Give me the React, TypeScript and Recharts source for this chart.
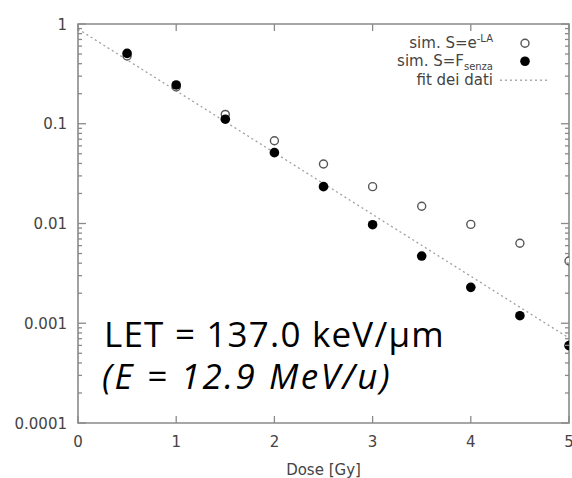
import React from 'react';
import { ComposedChart, Scatter, Line, XAxis, YAxis, ReferenceArea, Legend } from 'recharts';

// ---- data ----
const DOSE = [0.5, 1, 1.5, 2, 2.5, 3, 3.5, 4, 4.5, 5];
const SIM_EXP = [0.478, 0.234, 0.124, 0.0676, 0.0395, 0.0234, 0.0149, 0.0098, 0.00634, 0.00421];
const SIM_F = [0.508, 0.245, 0.111, 0.0513, 0.0234, 0.00973, 0.00472, 0.00229, 0.00119, 0.000596];
const FIT_DOSE = [0, 5];
const FIT_S = [0.891, 0.00071];
const X_TICKS = [0, 1, 2, 3, 4, 5];
const Y_MAJOR = [0.0001, 0.001, 0.01, 0.1, 1];
const Y_MAJOR_LABELS = ['0.0001', '0.001', '0.01', '0.1', '1'];
const Y_MINOR_MULT = [2, 3, 4, 5, 6, 7, 8, 9];

const simExpData = DOSE.map((x, i) => ({ x, s: SIM_EXP[i] }));
const simFData = DOSE.map((x, i) => ({ x, s: SIM_F[i] }));
const fitData = FIT_DOSE.map((x, i) => ({ x, s: FIT_S[i] }));
const Y_TICKS = Y_MAJOR.flatMap((d, i) =>
  i < Y_MAJOR.length - 1 ? [d, ...Y_MINOR_MULT.map((m) => +(d * m).toPrecision(3))] : [d]
);

// ---- layout ----
const W = 572;
const H = 478;
const M_TOP = 24;
const M_RIGHT = 3;
const Y_W = 78;
const X_H = 55;
const P_LEFT = Y_W;
const P_RIGHT = W - M_RIGHT;
const P_TOP = M_TOP;
const P_BOTTOM = H - X_H;
const AXIS_COLOR = '#8a8a8a';
const TEXT_COLOR = '#444';
const FONT = '"DejaVu Sans", sans-serif';

const YTick = (props: any) => {
  const { y, payload } = props;
  const v = payload.value;
  const idx = Y_MAJOR.indexOf(v);
  const major = idx >= 0;
  const len = major ? 8 : 4;
  return (
    <g>
      <line x1={P_LEFT} x2={P_LEFT + len} y1={y} y2={y} stroke={AXIS_COLOR} strokeWidth={1.3} />
      <line x1={P_RIGHT - len} x2={P_RIGHT} y1={y} y2={y} stroke={AXIS_COLOR} strokeWidth={1.3} />
      {major && (
        <text x={P_LEFT - 11} y={y} dy={5.5} textAnchor="end" fontFamily={FONT} fontSize={15} fill={TEXT_COLOR}>
          {Y_MAJOR_LABELS[idx]}
        </text>
      )}
    </g>
  );
};

const XTick = (props: any) => {
  const { x, payload } = props;
  return (
    <g>
      <line x1={x} x2={x} y1={P_BOTTOM} y2={P_BOTTOM - 7} stroke={AXIS_COLOR} strokeWidth={1.3} />
      <line x1={x} x2={x} y1={P_TOP} y2={P_TOP + 7} stroke={AXIS_COLOR} strokeWidth={1.3} />
      <text x={x} y={P_BOTTOM + 24} textAnchor="middle" fontFamily={FONT} fontSize={15} fill={TEXT_COLOR}>
        {payload.value}
      </text>
    </g>
  );
};

const OpenDot = (props: any) => (
  <circle cx={props.cx} cy={props.cy} r={4} fill="#fff" stroke="#555" strokeWidth={1.4} />
);
const SolidDot = (props: any) => <circle cx={props.cx} cy={props.cy} r={4.8} fill="#000" />;

const ROW_H = 18.5;
const LegendBox = () => {
  const row = (label: React.ReactNode, marker: React.ReactNode) => (
    <div style={{ display: 'flex', alignItems: 'center', height: ROW_H }}>
      <div style={{ width: 163, textAlign: 'right', whiteSpace: 'nowrap' }}>{label}</div>
      <svg width={67} height={ROW_H} style={{ overflow: 'visible' }}>
        {marker}
      </svg>
    </div>
  );
  const small: React.CSSProperties = { fontSize: 10, position: 'relative' };
  return (
    <div style={{ fontFamily: FONT, fontSize: 15, color: TEXT_COLOR, lineHeight: 1 }}>
      {row(
        <span>
          sim. S=e<span style={{ ...small, top: -6 }}>-LA</span>
        </span>,
        <circle cx={32} cy={ROW_H / 2} r={4} fill="#fff" stroke="#555" strokeWidth={1.4} />
      )}
      {row(
        <span>
          sim. S=F<span style={{ ...small, top: 4 }}>senza</span>
        </span>,
        <circle cx={32} cy={ROW_H / 2} r={4.8} fill="#000" />
      )}
      {row(
        <span>fit dei dati</span>,
        <line x1={7} x2={54} y1={ROW_H / 2} y2={ROW_H / 2} stroke="#aaa" strokeWidth={1.3} strokeDasharray="2 3" />
      )}
    </div>
  );
};

export default function App() {
  return (
    <div style={{ position: 'absolute', left: 0, top: 0, width: W, height: H, background: '#fff' }}>
      <ComposedChart width={W} height={H} margin={{ top: M_TOP, right: M_RIGHT, bottom: 0, left: 0 }}>
        <XAxis
          dataKey="x"
          type="number"
          domain={[0, 5]}
          ticks={X_TICKS}
          interval={0}
          height={X_H}
          allowDataOverflow
          axisLine={false}
          tickLine={false}
          tick={<XTick />}
          label={{ value: 'Dose [Gy]', position: 'insideBottom', offset: 3, fontFamily: FONT, fontSize: 15, fill: TEXT_COLOR }}
        />
        <YAxis
          dataKey="s"
          type="number"
          scale="log"
          domain={[0.0001, 1]}
          ticks={Y_TICKS}
          interval={0}
          width={Y_W}
          allowDataOverflow
          axisLine={false}
          tickLine={false}
          tick={<YTick />}
        />
        <ReferenceArea
          x1={0}
          x2={5}
          y1={0.0001}
          y2={1}
          fill="none"
          stroke={AXIS_COLOR}
          strokeWidth={1.6}
          ifOverflow="visible"
        />
        <Line
          data={fitData}
          dataKey="s"
          type="linear"
          stroke="#a0a0a0"
          strokeWidth={1.3}
          strokeDasharray="2 3"
          dot={false}
          activeDot={false}
          isAnimationActive={false}
          legendType="none"
        />
        <Scatter data={simExpData} dataKey="s" shape={<OpenDot />} isAnimationActive={false} />
        <Scatter data={simFData} dataKey="s" shape={<SolidDot />} isAnimationActive={false} />
        <Legend
          layout="vertical"
          align="center"
          verticalAlign="middle"
          wrapperStyle={{ position: 'absolute', left: 330, top: 33.75, width: 230, height: 56 }}
          content={() => <LegendBox />}
        />
      </ComposedChart>
      <svg
        width={W}
        height={H}
        style={{ position: 'absolute', left: 0, top: 0, pointerEvents: 'none' }}
      >
        <text x={104} y={347} fontFamily='"Open Sans", sans-serif' fontSize={35} letterSpacing={1.2} fill="#000">
          LET = 137.0 keV/μm
        </text>
        <text x={102} y={389} fontFamily='"Open Sans", sans-serif' fontSize={35} letterSpacing={2.5} fontStyle="italic" fill="#000">
          (E = 12.9 MeV/u)
        </text>
      </svg>
    </div>
  );
}
